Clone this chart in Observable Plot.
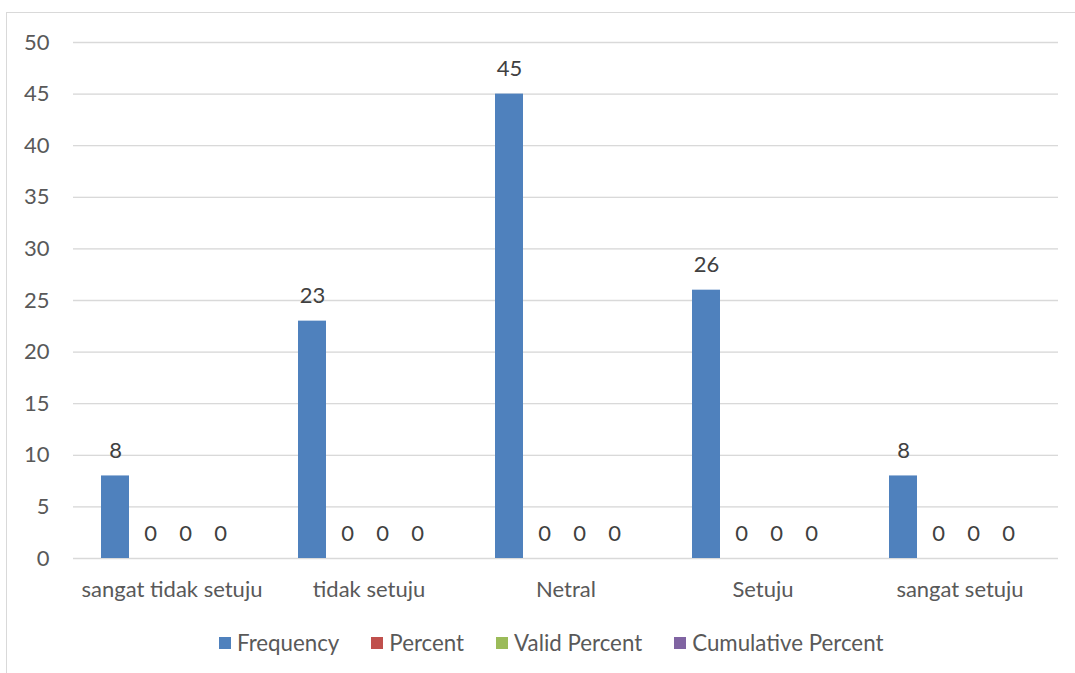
<!DOCTYPE html>
<html>
<head>
<meta charset="utf-8">
<script src="https://cdn.jsdelivr.net/npm/d3@7"></script>
<script src="https://cdn.jsdelivr.net/npm/@observablehq/plot@0.6"></script>
<style>
  html, body { margin: 0; padding: 0; background: #fff; }
  #wrap { position: relative; width: 1075px; height: 673px; overflow: hidden; font-family: Lato, "Open Sans", sans-serif; }
  #frame { position: absolute; left: 6px; top: 12px; width: 1200px; height: 800px; border-left: 1.5px solid #d9d9d9; border-top: 1.5px solid #d9d9d9; box-sizing: border-box; }
  #chart { position: absolute; left: 0; top: 0; }
  #legend { position: absolute; left: 219px; top: 629px; display: flex; align-items: center; font-size: 22.3px; color: #595959; white-space: nowrap; }
  .item { display: flex; align-items: center; margin-right: 32px; }
  .sw { width: 12px; height: 12px; margin-right: 6px; }
</style>
</head>
<body>
<div id="wrap">
  <div id="frame"></div>
  <div id="chart"></div>
  <div id="legend"></div>
</div>
<script>
const categories = ["sangat tidak setuju", "tidak setuju", "Netral", "Setuju", "sangat setuju"];
const series = ["Frequency", "Percent", "Valid Percent", "Cumulative Percent"];
const frequency = [8, 23, 45, 26, 8];
const percent = [0, 0, 0, 0, 0];
const validPercent = [0, 0, 0, 0, 0];
const cumulativePercent = [0, 0, 0, 0, 0];
const colors = ["#4f81bd", "#c0504d", "#9bbb59", "#8064a2"];
const yTicks = [0, 5, 10, 15, 20, 25, 30, 35, 40, 45, 50];

const seriesValues = [frequency, percent, validPercent, cumulativePercent];
const data = [];
categories.forEach((c, i) => {
  series.forEach((s, j) => {
    data.push({category: c, series: s, value: seriesValues[j][i]});
  });
});

const chart = Plot.plot({
  width: 1075,
  height: 620,
  marginLeft: 71,
  marginRight: 16,
  marginTop: 42,
  marginBottom: 62,
  style: {fontFamily: "Lato, 'Open Sans', sans-serif", fontSize: "22px", color: "#595959", background: "transparent"},
  fx: {domain: categories, padding: 0, label: null, tickSize: 0, tickPadding: 23},
  x: {domain: series, paddingInner: 0.207, paddingOuter: 0.9, align: 0.44, axis: null},
  y: {domain: [0, 50], ticks: yTicks, grid: true, label: null, tickSize: 0, tickPadding: 24},
  color: {domain: series, range: colors},
  marks: [
    Plot.gridY(yTicks, {stroke: "#d9d9d9", strokeOpacity: 1, strokeWidth: 1.3}),
    Plot.barY(data, {fx: "category", x: "series", y: "value", fill: "series"}),
    Plot.text(data, {fx: "category", x: "series", y: "value", text: d => String(d.value), dy: -25, fill: "#404040", fontSize: 22})
  ]
});
document.getElementById("chart").appendChild(chart);

const legend = document.getElementById("legend");
series.forEach((s, j) => {
  const item = document.createElement("div");
  item.className = "item";
  const sw = document.createElement("div");
  sw.className = "sw";
  sw.style.background = colors[j];
  const t = document.createElement("span");
  t.textContent = s;
  item.appendChild(sw);
  item.appendChild(t);
  legend.appendChild(item);
});
</script>
</body>
</html>
